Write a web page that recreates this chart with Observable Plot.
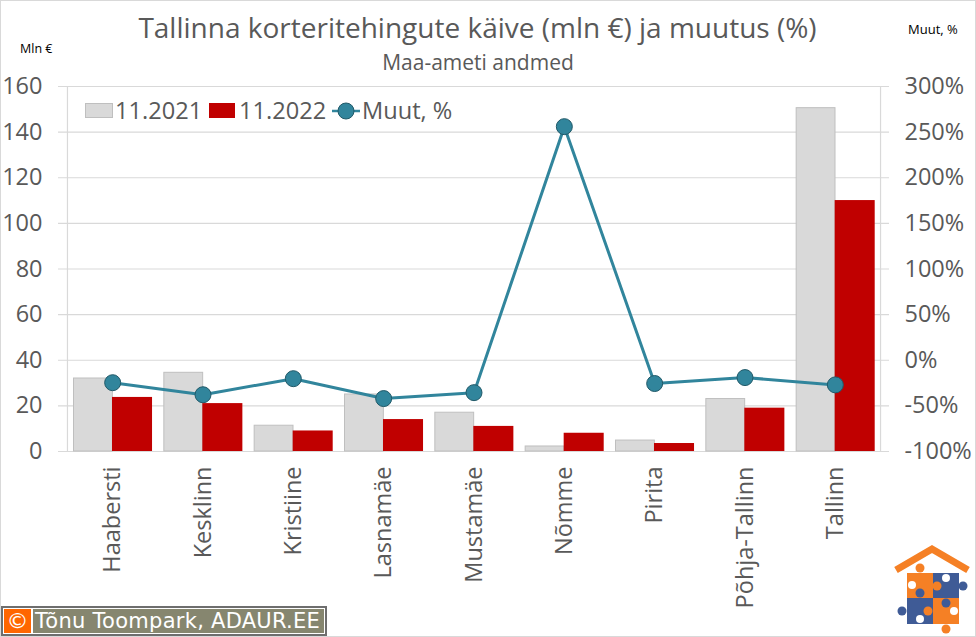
<!DOCTYPE html>
<html><head><meta charset="utf-8">
<script src="https://cdn.jsdelivr.net/npm/d3@7"></script>
<script src="https://cdn.jsdelivr.net/npm/@observablehq/plot@0.6"></script>
<style>
html,body{margin:0;padding:0;background:#fff}
#wrap{position:relative;width:976px;height:637px;overflow:hidden;font-family:"Open Sans",sans-serif;color:#595959}
#wrap svg{display:block}
.t{position:absolute;white-space:nowrap}
#frame{position:absolute;left:0;top:0;width:974px;height:635px;border:1px solid #d9d9d9;pointer-events:none}
</style></head><body>
<div id="wrap">
<div id="chart"></div>
<div id="frame"></div>
<div class="t" id="title" style="left:0;width:955px;text-align:center;top:8px;font-size:28px">Tallinna korteritehingute käive (mln €) ja muutus (%)</div>
<div class="t" id="subtitle" style="left:0;width:956px;text-align:center;top:48px;font-size:21px">Maa-ameti andmed</div>
<div class="t" style="left:20px;top:40px;font-size:12.5px;color:#000">Mln €</div>
<div class="t" style="left:908px;top:20px;font-size:13px;color:#000">Muut, %</div>
<div class="t" style="left:85px;top:97px;font-size:23.6px;line-height:26px">
<span style="position:absolute;left:0;top:6px;width:26px;height:13px;background:#d9d9d9;border:1px solid #bfbfbf"></span><span style="position:absolute;left:30px">11.2021</span>
<span style="position:absolute;left:124px;top:6px;width:26px;height:15px;background:#c00000"></span><span style="position:absolute;left:154px">11.2022</span>
<svg style="position:absolute;left:247px;top:1px" width="28" height="26"><line x1="0" x2="28" y1="13" y2="13" stroke="#31859c" stroke-width="2.5"/><circle cx="14" cy="13" r="8" fill="#31859c" stroke="#215968"/></svg><span style="position:absolute;left:277px">Muut,&nbsp;%</span>
</div>
<div class="t" style="left:1px;top:606px;width:326px;height:30px;box-sizing:border-box;border:2px solid #6e6e6e;background:#fff;padding:1px">
<div style="display:flex;height:24px;font-family:'DejaVu Sans',sans-serif;font-size:21px;line-height:24px;color:#fff">
<span style="width:27px;background:#ff6600;text-align:center;margin-right:2px;font-size:22px">©</span>
<span style="flex:1;background:#86866f;padding-left:2px;letter-spacing:.27px">Tõnu Toompark, ADAUR.EE</span></div></div>
<svg class="t" style="left:892px;top:544px" width="84" height="90" viewBox="0 0 84 90" aria-hidden="true">
<polyline points="4,26 40,5 76,26" fill="none" stroke="#f58025" stroke-width="7"/>
<rect x="15" y="29" width="26" height="25" fill="#f58025"/><rect x="41" y="29" width="26" height="25" fill="#3f5b96"/>
<rect x="15" y="54" width="26" height="26" fill="#3f5b96"/><rect x="41" y="54" width="26" height="26" fill="#f58025"/>
<circle cx="28" cy="24" r="4.5" fill="#f58025"/><circle cx="71" cy="42" r="4.5" fill="#3f5b96"/><circle cx="10" cy="67" r="4.5" fill="#3f5b96"/><circle cx="54" cy="85" r="4.5" fill="#f58025"/>
<circle cx="45" cy="42" r="4.5" fill="#f58025"/><circle cx="54" cy="34" r="4" fill="#fff"/><circle cx="28" cy="49" r="4.5" fill="#3f5b96"/><circle cx="20" cy="41" r="4" fill="#fff"/>
<circle cx="54" cy="59" r="4.5" fill="#3f5b96"/><circle cx="62" cy="67" r="4" fill="#fff"/><circle cx="36" cy="67" r="4.5" fill="#f58025"/><circle cx="28" cy="75" r="4" fill="#fff"/>
</svg>
</div>
<script>
const categories = ["Haabersti","Kesklinn","Kristiine","Lasnamäe","Mustamäe","Nõmme","Pirita","Põhja-Tallinn","Tallinn"];
const v2021 = [32,34.5,11.3,25,17,2.2,4.8,23,150.5];
const v2022 = [23.7,21,9,14,11,8,3.5,19,110];
const change = [-24.6,-37.8,-20.2,-42,-35.5,256,-25.5,-19,-27];
const leftTicks = [0,20,40,60,80,100,120,140,160];
const rightTicks = [-100,-50,0,50,100,150,200,250,300];
const toLeft = p => (p + 100) / 400 * 160;
const row = (a) => categories.map((c,i)=>({c, v:a[i]}));
const lineData = categories.map((c,i)=>({c,p:toLeft(change[i])}));
const chart = Plot.plot({
  width:976, height:637,
  marginLeft:67, marginRight:96, marginTop:86, marginBottom:186,
  style:{fontFamily:'"Open Sans",sans-serif',background:"transparent",overflow:"visible"},
  x:{domain:categories,padding:0,round:false,label:null},
  y:{domain:[0,160],label:null},
  marks:[
    Plot.gridY(leftTicks,{stroke:"#d9d9d9",strokeOpacity:1,strokeWidth:1.2,insetLeft:-9,insetRight:-9}),
    Plot.ruleX([categories[0]],{y1:0,y2:160,stroke:"#d9d9d9",dx:-45.2,strokeWidth:1.2}),
    Plot.ruleX([categories[8]],{y1:0,y2:160,stroke:"#d9d9d9",dx:45.2,strokeWidth:1.2}),
    Plot.barY(row(v2021),{x:"c",y:"v",fill:"#d9d9d9",stroke:"#bfbfbf",insetLeft:6.5,insetRight:45}),
    Plot.barY(row(v2022),{x:"c",y:"v",fill:"#c00000",insetLeft:45,insetRight:5.3}),
    Plot.line(lineData,{x:"c",y:"p",stroke:"#31859c",strokeWidth:3}),
    Plot.dot(lineData,{x:"c",y:"p",r:8,fill:"#31859c",stroke:"#215968",strokeWidth:1}),
    Plot.axisY({ticks:leftTicks,tickSize:0,tickPadding:0,dx:-25,fontSize:23.5,fill:"#595959",label:null,textAnchor:"end",tickFormat:d=>d}),
    Plot.axisY({anchor:"right",ticks:rightTicks.map(toLeft),tickSize:0,tickPadding:0,dx:24,fontSize:23.5,fill:"#595959",label:null,tickFormat:(d)=>`${d/160*400-100}%`}),
    Plot.axisX({tickSize:0,tickRotate:-90,fontSize:23.5,fill:"#595959",label:null,tickPadding:15})
  ]
});
document.getElementById("chart").append(chart);
</script>
</body></html>
